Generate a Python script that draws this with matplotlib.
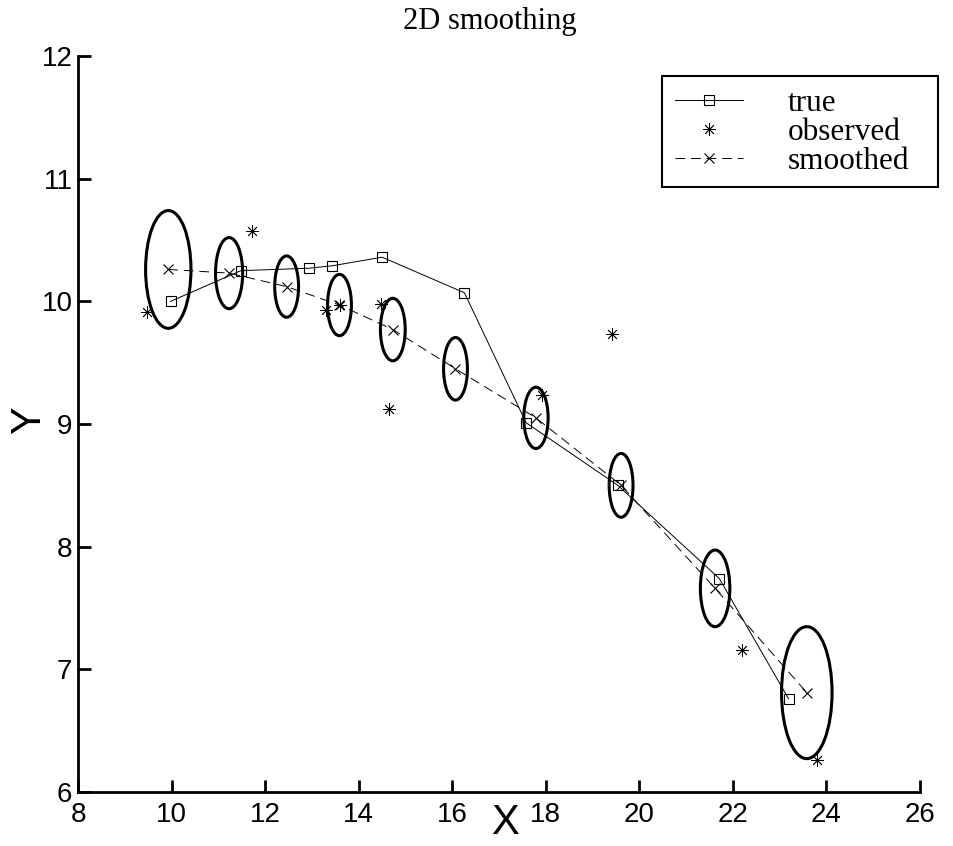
import matplotlib
matplotlib.use("Agg")
import matplotlib.pyplot as plt
from matplotlib.patches import Ellipse, Rectangle

# true track
true_x = [9.98, 11.48, 12.94, 13.44, 14.50, 16.26, 17.58, 19.54, 21.71, 23.19]
true_y = [10.00, 10.25, 10.27, 10.29, 10.36, 10.07, 9.01, 8.50, 7.74, 6.76]

# noisy observations
obs_x = [9.47, 11.73, 13.31, 13.61, 14.47, 14.65, 17.91, 19.41, 22.20, 23.80]
obs_y = [9.91, 10.57, 9.93, 9.97, 9.98, 9.12, 9.24, 9.73, 7.16, 6.26]

# smoothed estimates + covariance ellipses (diameters in data units)
sm_x = [9.93, 11.23, 12.46, 13.59, 14.73, 16.07, 17.79, 19.61, 21.62, 23.58]
sm_y = [10.26, 10.23, 10.12, 9.97, 9.77, 9.45, 9.05, 8.50, 7.66, 6.81]
ell_w = [0.97, 0.58, 0.51, 0.51, 0.53, 0.51, 0.52, 0.51, 0.63, 1.08]
ell_h = [0.96, 0.58, 0.50, 0.50, 0.51, 0.51, 0.50, 0.52, 0.625, 1.076]

xticks = [8, 10, 12, 14, 16, 18, 20, 22, 24, 26]
yticks = [6, 7, 8, 9, 10, 11, 12]

sans = ['Liberation Sans', 'DejaVu Sans']
serif = ['Liberation Serif', 'DejaVu Serif']

fig = plt.figure(figsize=(9.54, 8.46), dpi=100)
ax = fig.add_axes([78/954, 1-792/846, 842/954, 736/846])

asterisk = (8, 2, 0)

ax.plot(true_x, true_y, '-', color='k', lw=0.7, marker='s', ms=7,
        mfc='none', mec='k', mew=0.8, label='true')
ax.plot(obs_x, obs_y, ls='none', color='k', marker=asterisk, ms=9,
        mew=0.6, label='observed')
ax.plot(sm_x, sm_y, '--', color='k', lw=0.7, dashes=(10, 6), marker='x',
        ms=7, mew=0.8, label='smoothed')

for cx, cy, w, h in zip(sm_x, sm_y, ell_w, ell_h):
    ax.add_patch(Ellipse((cx, cy), w, h, fill=False, ec='k', lw=2.2))

ax.set_xlim(8, 26)
ax.set_ylim(6, 12)
ax.set_xticks(xticks)
ax.set_yticks(yticks)

for s in ['top', 'right']:
    ax.spines[s].set_visible(False)
for s in ['left', 'bottom']:
    ax.spines[s].set_linewidth(2)

ax.tick_params(direction='in', length=9, width=2, labelsize=20)
ax.tick_params(axis='x', pad=7)
ax.tick_params(axis='y', pad=4)
for lab in ax.get_xticklabels() + ax.get_yticklabels():
    lab.set_family(sans)

ax.text(0.507, -0.042, 'X', transform=ax.transAxes, ha='center', va='center',
        fontsize=30, family=sans)
fig.text(29/954, 1-420/846, 'Y', rotation=90, ha='center', va='center',
         fontsize=30, family=sans)

fig.text(490/954, 1-22/846, '2D smoothing', ha='center', va='center',
         fontsize=22, family=serif)

# legend box drawn separately so its size matches the original
fig.add_artist(Rectangle((662/954, 1-187/846), 276/954, 111/846,
                         transform=fig.transFigure, fill=False, ec='k', lw=1.5))
leg = ax.legend(loc='upper left', bbox_to_anchor=(662/954, 1-76/846),
                bbox_transform=fig.transFigure, borderaxespad=0,
                prop={'family': serif, 'size': 22.5}, frameon=False,
                numpoints=1, handlelength=2.18, handletextpad=1.44,
                labelspacing=0.0, borderpad=0.42)

plt.savefig('out.png', dpi=100)
